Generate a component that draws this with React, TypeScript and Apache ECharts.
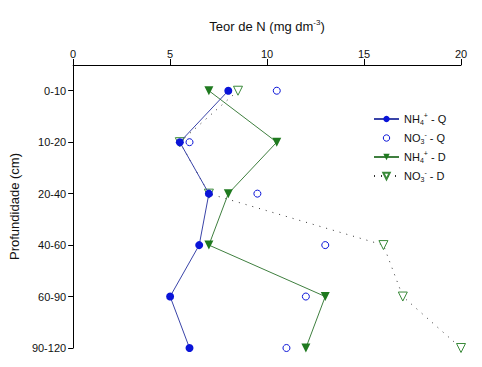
import React, { useEffect, useRef } from "react";
import * as echarts from "echarts";

const depths = ["0-10", "10-20", "20-40", "40-60", "60-90", "90-120"];
const xTicks = [0, 5, 10, 15, 20];
const nh4Q = [8, 5.5, 7, 6.5, 5, 6];
const no3Q = [10.5, 6, 9.5, 13, 12, 11];
const nh4D = [7, 10.5, 8, 7, 13, 12];
const no3D = [8.5, 5.5, 7, 16, 17, 20];

const FONT = "Liberation Sans, Arial, sans-serif";

const toPts = (vals: number[]) => vals.map((v, i) => [v, i + 1]);

const richTxt = {
  b: { fontSize: 11, fontFamily: FONT, color: "#111", lineHeight: 14 },
  sub: { fontSize: 7, fontFamily: FONT, color: "#111", verticalAlign: "bottom", lineHeight: 9 },
  sup: { fontSize: 7, fontFamily: FONT, color: "#111", verticalAlign: "top", lineHeight: 9 },
};

const legendLabels: Record<string, string> = {
  "NH4+ - Q": "{b|NH}{sub|4}{sup|+}{b| - Q}",
  "NO3- - Q": "{b|NO}{sub|3}{sup|-}{b| - Q}",
  "NH4+ - D": "{b|NH}{sub|4}{sup|+}{b| - D}",
  "NO3- - D": "{b|NO}{sub|3}{sup|-}{b| - D}",
};

export default function App() {
  const ref = useRef<HTMLDivElement>(null);
  useEffect(() => {
    document.body.style.margin = "0";
    const chart = echarts.init(ref.current!, null, { renderer: "svg" });
    const blue = "#0a14d8";
    const blueLine = "#3a44a8";
    const green = "#1f7a1f";
    const greenLine = "#3f7f3f";
    chart.setOption({
      animation: false,
      backgroundColor: "#fff",
      grid: { left: 72, right: 21, top: 65, bottom: 19 },
      xAxis: {
        type: "value",
        position: "top",
        min: 0,
        max: 20,
        interval: 5,
        name: "{t|Teor de N (mg dm}{s|-3}{t|)}",
        nameLocation: "middle",
        nameGap: 31,
        nameTextStyle: {
          rich: {
            t: { fontSize: 13, fontFamily: FONT, color: "#111", lineHeight: 16 },
            s: { fontSize: 8, fontFamily: FONT, color: "#111", verticalAlign: "top", lineHeight: 10 },
          },
        },
        axisLine: { show: true, lineStyle: { color: "#000", width: 1 } },
        axisTick: { show: true, length: 6, lineStyle: { color: "#000" } },
        axisLabel: { fontSize: 11, fontFamily: FONT, color: "#111", margin: 6 },
        splitLine: { show: false },
      },
      yAxis: {
        type: "value",
        inverse: true,
        min: 0.5,
        max: 6,
        name: "Profundidade (cm)",
        nameLocation: "middle",
        nameGap: 50,
        nameTextStyle: { fontSize: 13, fontFamily: FONT, color: "#111" },
        axisLine: { show: true, lineStyle: { color: "#000", width: 1 } },
        axisTick: { show: true, length: 5, lineStyle: { color: "#000" }, customValues: [1, 2, 3, 4, 5, 6] },
        axisLabel: {
          fontSize: 11,
          fontFamily: FONT,
          color: "#111",
          margin: 7,
          customValues: [1, 2, 3, 4, 5, 6],
          formatter: (v: number) => depths[Math.round(v) - 1] ?? "",
        },
        splitLine: { show: false },
      },
      legend: {
        orient: "vertical",
        left: 368,
        top: 107,
        itemWidth: 25,
        itemHeight: 8,
        itemGap: 5,
        data: [
          "NH4+ - Q",
          { name: "NO3- - Q", itemStyle: { borderWidth: 1 } },
          "NH4+ - D",
          "NO3- - D",
        ],
        formatter: (n: string) => legendLabels[n] ?? n,
        textStyle: { rich: richTxt },
      },
      series: [
        {
          name: "NO3- - D",
          type: "line",
          data: toPts(no3D),
          symbol: "triangle",
          symbolRotate: 180,
          symbolSize: 9,
          itemStyle: { color: "#fff", borderColor: "#3a8a3a", borderWidth: 1 },
          lineStyle: { color: "#333", width: 1, type: [1, 6] },
          z: 2,
        },
        {
          name: "NO3- - Q",
          type: "line",
          data: toPts(no3Q),
          symbol: "circle",
          symbolSize: 7,
          itemStyle: { color: "#fff", borderColor: blue, borderWidth: 1 },
          lineStyle: { color: blue, width: 0, opacity: 0 },
          z: 3,
        },
        {
          name: "NH4+ - D",
          type: "line",
          data: toPts(nh4D),
          symbol: "triangle",
          symbolRotate: 180,
          symbolSize: 9,
          itemStyle: { color: green, borderColor: green, borderWidth: 0 },
          lineStyle: { color: greenLine, width: 1 },
          z: 4,
        },
        {
          name: "NH4+ - Q",
          type: "line",
          data: toPts(nh4Q),
          symbol: "circle",
          symbolSize: 8,
          itemStyle: { color: blue, borderWidth: 0 },
          lineStyle: { color: blueLine, width: 1 },
          z: 5,
        },
      ],
    });
    return () => chart.dispose();
  }, []);
  return <div ref={ref} style={{ width: 482, height: 367 }} />;
}
